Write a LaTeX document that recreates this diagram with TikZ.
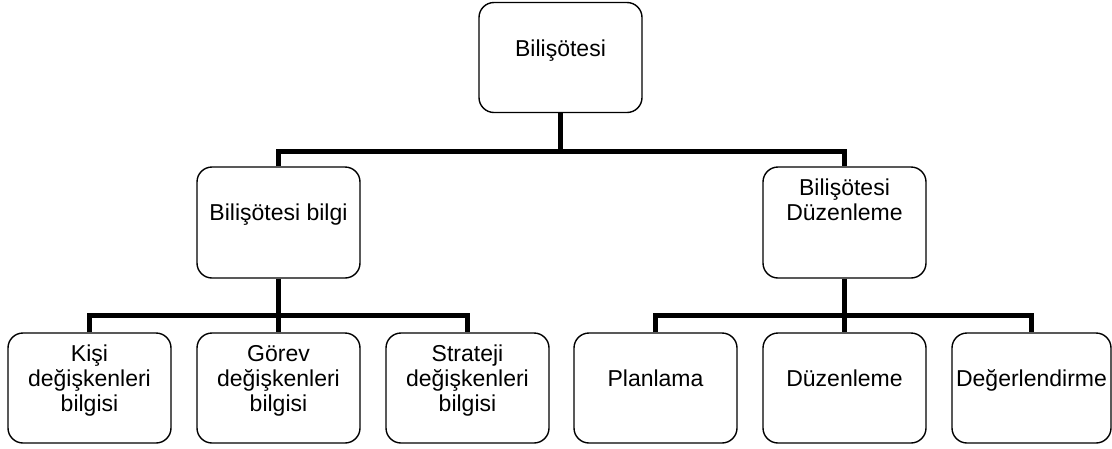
\documentclass[tikz,border=0pt]{standalone}
\usepackage{fontspec}
\setmainfont{Liberation Sans}
\begin{document}
\begin{tikzpicture}[x=1pt,y=-1pt,
  box/.style={draw=black, line width=1.4pt, rounded corners=15pt, minimum width=163pt, minimum height=110pt, inner sep=0pt, fill=white},
  txt/.style={anchor=north, inner sep=0pt, align=center, font=\fontsize{23}{25}\selectfont},
  conn/.style={draw=black, line width=5pt}]
\useasboundingbox[fill=white] (0,0) rectangle (1112,448);
% boxes
\node[box] (top) at (560.5,57.5) {};
\node[box, minimum height=111pt] (ml) at (278.5,222.5) {};
\node[box, minimum height=111pt] (mr) at (844.5,222.5) {};
\node[box] (b1) at (89.5,388) {};
\node[box] (b2) at (278.5,388) {};
\node[box] (b3) at (467.5,388) {};
\node[box] (b4) at (655.5,388) {};
\node[box] (b5) at (844.5,388) {};
\node[box, minimum width=159pt] (b6) at (1031.5,388) {};
% texts
\node[txt] (ttop) at ([yshift=-36.5pt]top.north) {\strut Bilişötesi};
\node[txt] (tml) at ([yshift=-36.5pt]ml.north) {\strut Bilişötesi bilgi};
\node[txt] (tmr) at ([yshift=-11.5pt]mr.north) {\strut Bilişötesi\\\strut Düzenleme};
\node[txt] (tb1) at ([yshift=-11.5pt]b1.north) {\strut Kişi\\\strut değişkenleri\\\strut bilgisi};
\node[txt] (tb2) at ([yshift=-11.5pt]b2.north) {\strut Görev\\\strut değişkenleri\\\strut bilgisi};
\node[txt] (tb3) at ([yshift=-11.5pt]b3.north) {\strut Strateji\\\strut değişkenleri\\\strut bilgisi};
\node[txt] (tb4) at ([yshift=-36.5pt]b4.north) {\strut Planlama};
\node[txt] (tb5) at ([yshift=-36.5pt]b5.north) {\strut Düzenleme};
\node[txt] (tb6) at ([yshift=-36.5pt]b6.north) {\strut Değerlendirme};
% junctions
\coordinate (j1) at (560.5,151);
\coordinate (j2) at (278.5,315);
\coordinate (j3) at (844.5,315);
% connectors
\draw[conn] (top.south) -- (j1);
\draw[conn] (ml.north) |- (j1) -| (mr.north);
\draw[conn] (ml.south) -- (b2.north);
\draw[conn] (b1.north) |- (j2) -| (b3.north);
\draw[conn] (mr.south) -- (b5.north);
\draw[conn] (b4.north) |- (j3) -| (b6.north);
\end{tikzpicture}
\end{document}
